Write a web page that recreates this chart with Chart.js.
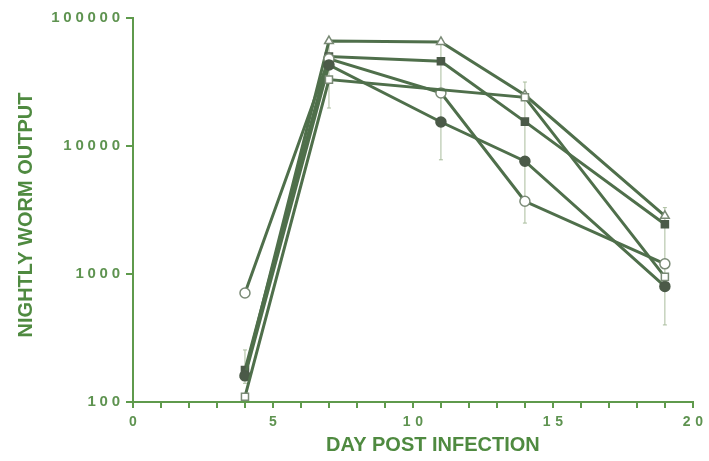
<!DOCTYPE html>
<html><head><meta charset="utf-8">
<script src="https://cdn.jsdelivr.net/npm/chart.js@4"></script>
<style>html,body{margin:0;padding:0;background:#fff}#wrap{width:709px;height:461px}</style>
</head><body><div id="wrap"><canvas id="c" width="709" height="461"></canvas></div>
<script>
const days = [4, 7, 11, 14, 19];
const openTriangle = [165, 66000, 65000, 25000, 2850];
const filledSquare = [178, 50000, 46000, 15500, 2450];
const openCircle = [710, 48000, 26000, 3700, 1200];
const filledCircle = [160, 43000, 15400, 7600, 800];
const openSquare = [110, 33000, null, 24000, 950];
const errLow = [140, 19800, 7800, 2500, 400];
const errHigh = [255, 66000, 66000, 31600, 3300];
const yTicks = [100, 1000, 10000, 100000];
const xMin = 0, xMax = 20;
const yMin = 100, yMax = 100000;

const GREEN = '#5f9a4c';
const TEXT = '#5e9350';
const LINE = '#4f6f4b';
const spaced = (s, sp) => String(s).split('').join(sp);

function series(vals, style, filled) {
  return {
    data: days.map((d, i) => ({x: d, y: vals[i]})),
    borderColor: LINE,
    borderWidth: 3,
    pointStyle: style,
    pointRadius: 5,
    pointBackgroundColor: filled ? '#4b5a48' : '#ffffff',
    pointBorderColor: filled ? '#4b5a48' : '#7a8a76',
    pointBorderWidth: 1.5,
    spanGaps: true,
    tension: 0,
    clip: false
  };
}

const errorBars = {
  id: 'errorBars',
  beforeDatasetsDraw(chart) {
    const {ctx, scales: {x, y}} = chart;
    ctx.save();
    ctx.strokeStyle = '#a9bc9c';
    ctx.lineWidth = 1;
    days.forEach((d, i) => {
      const px = x.getPixelForValue(d);
      const y1 = y.getPixelForValue(errLow[i]);
      const y2 = y.getPixelForValue(errHigh[i]);
      ctx.beginPath();
      ctx.moveTo(px, y1); ctx.lineTo(px, y2);
      ctx.moveTo(px - 2, y1); ctx.lineTo(px + 2, y1);
      ctx.moveTo(px - 2, y2); ctx.lineTo(px + 2, y2);
      ctx.stroke();
    });
    ctx.restore();
  }
};

new Chart(document.getElementById('c'), {
  type: 'line',
  data: {
    datasets: [
      series(openSquare, 'rect', false),
      series(filledCircle, 'circle', true),
      series(openCircle, 'circle', false),
      series(filledSquare, 'rect', true),
      series(openTriangle, 'triangle', false)
    ]
  },
  options: {
    responsive: false,
    animation: false,
    layout: {padding: {top: 18, right: 13, left: 0, bottom: 0}},
    plugins: {legend: {display: false}, tooltip: {enabled: false}},
    scales: {
      x: {
        type: 'linear', min: xMin, max: xMax,
        afterFit(s) { s.height = 59; },
        ticks: {
          stepSize: 1, autoSkip: false, maxRotation: 0, padding: 6,
          color: TEXT, font: {family: 'Liberation Sans', size: 14, weight: 'bold'},
          callback: v => (v % 5 === 0 ? spaced(v, '\u2005\u200A') : '')
        },
        grid: {drawOnChartArea: false, drawTicks: true, tickLength: 6, color: GREEN, lineWidth: 2},
        border: {color: GREEN, width: 2},
        title: {display: true, text: '\u2002\u2002\u2002\u2002DAY POST INFECTION', color: '#4f8a40',
          font: {family: 'Liberation Sans', size: 20, weight: 'bold'}, padding: {top: 0}}
      },
      y: {
        type: 'logarithmic', min: yMin, max: yMax,
        afterFit(s) { s.width = 133; },
        afterBuildTicks(s) { s.ticks = yTicks.map(v => ({value: v})); },
        ticks: {
          padding: 6, color: TEXT, font: {family: 'Liberation Sans', size: 15, weight: 'bold'},
          callback: v => spaced(v, '\u2005')
        },
        grid: {drawOnChartArea: false, drawTicks: true, tickLength: 7, color: GREEN, lineWidth: 2},
        border: {color: GREEN, width: 2},
        title: {display: true, text: 'NIGHTLY WORM OUTPUT\u2002', color: '#4f8a40',
          font: {family: 'Liberation Sans', size: 20, weight: 'bold'}, padding: {bottom: 0, top: 14}}
      }
    }
  },
  plugins: [errorBars]
});
</script>
</body></html>
